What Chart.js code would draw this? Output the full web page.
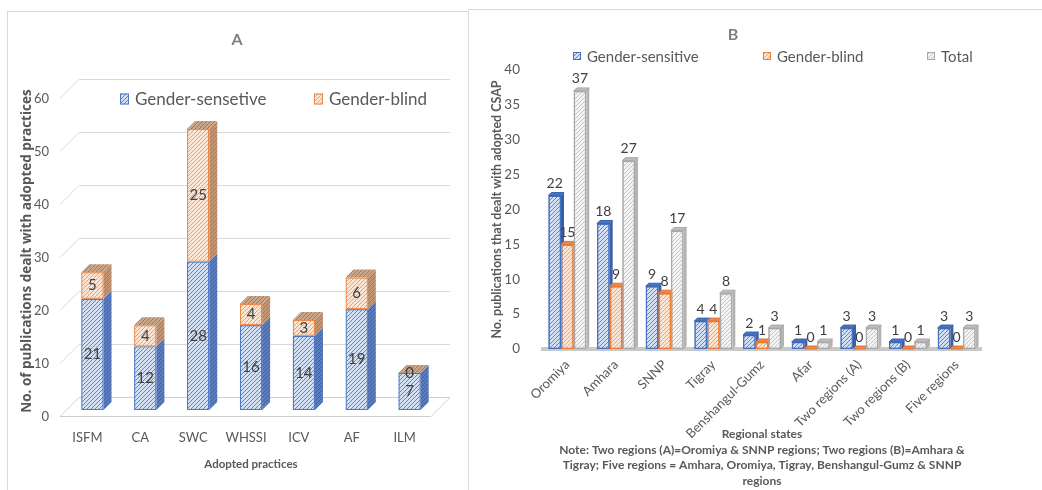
<!DOCTYPE html>
<html>
<head>
<meta charset="utf-8">
<script src="https://cdn.jsdelivr.net/npm/chart.js@4.4.1/dist/chart.umd.min.js"></script>
<style>
  html, body { margin: 0; padding: 0; background: #fff; }
  #wrap { position: relative; width: 1042px; height: 490px; overflow: hidden; background: #fff; }
  #frameA { position: absolute; left: 7px; top: 11px; width: 460px; height: 490px; border: 1.5px solid #d9d9d9; }
  #frameB { position: absolute; left: 468px; top: 9px; width: 580px; height: 490px; border-top: 1.5px solid #d9d9d9; }
  canvas { position: absolute; top: 0; }
  #cA { left: 0; }
  #cB { left: 470px; }
</style>
</head>
<body>
<div id="wrap">
  <div id="frameA"></div>
  <div id="frameB"></div>
  <canvas id="cA" width="470" height="490"></canvas>
  <canvas id="cB" width="572" height="490"></canvas>
</div>
<script>
// Panel A: publications by adopted practice
const practices = ['ISFM', 'CA', 'SWC', 'WHSSI', 'ICV', 'AF', 'ILM'];
const practiceSensitive = [21, 12, 28, 16, 14, 19, 7];
const practiceBlind = [5, 4, 25, 4, 3, 6, 0];
const practiceTicks = [0, 10, 20, 30, 40, 50, 60];

// Panel B: publications by regional state
const regions = ['Oromiya', 'Amhara', 'SNNP', 'Tigray', 'Benshangul-Gumz', 'Afar',
                 'Two regions (A)', 'Two regions (B)', 'Five regions'];
const regionSensitive = [22, 18, 9, 4, 2, 1, 3, 1, 3];
const regionBlind = [15, 9, 8, 4, 1, 0, 0, 0, 0];
const regionTotal = [37, 27, 17, 8, 3, 1, 3, 1, 3];
const regionTicks = [0, 5, 10, 15, 20, 25, 30, 35, 40];

const noteLines = [
  'Regional states',
  'Note: Two regions (A)=Oromiya & SNNP regions; Two regions (B)=Amhara &',
  'Tigray; Five regions = Amhara, Oromiya, Tigray, Benshangul-Gumz & SNNP',
  'regions'
];

const FAMILY = "Lato, 'Open Sans', sans-serif";
Chart.defaults.font.family = FAMILY;
Chart.defaults.color = '#595959';

// diagonal hatch fill
function hatch(bg, fg, step) {
  const c = document.createElement('canvas');
  c.width = c.height = step;
  const g = c.getContext('2d');
  g.fillStyle = bg;
  g.fillRect(0, 0, step, step);
  g.strokeStyle = fg;
  g.lineWidth = 1;
  g.beginPath();
  g.moveTo(0, step); g.lineTo(step, 0);
  g.moveTo(-1, 1); g.lineTo(1, -1);
  g.moveTo(step - 1, step + 1); g.lineTo(step + 1, step - 1);
  g.stroke();
  return g.createPattern(c, 'repeat');
}

// side and top faces that give each bar some depth; series are repainted
// left to right so a bar's neighbour on the right hides its side face
const depthFaces = {
  id: 'depthFaces',
  afterDatasetsDraw(chart, args, o) {
    const ctx = chart.ctx;
    const dx = o.dx, dy = o.dy;
    ctx.save();
    chart.data.datasets.forEach((ds, i) => {
      const meta = chart.getDatasetMeta(i);
      const f = ds.faces;
      meta.data.forEach(bar => bar.draw(ctx));
      if (!f) return;
      meta.data.forEach(bar => {
        const p = bar.getProps(['x', 'y', 'base', 'width'], true);
        const l = p.x - p.width / 2, r = p.x + p.width / 2;
        const top = Math.min(p.y, p.base), bot = Math.max(p.y, p.base);
        ctx.fillStyle = f.side;
        ctx.beginPath();
        ctx.moveTo(r, bot); ctx.lineTo(r + dx, bot - dy);
        ctx.lineTo(r + dx, top - dy); ctx.lineTo(r, top);
        ctx.closePath(); ctx.fill();
        if (f.top) {
          ctx.fillStyle = f.top;
          ctx.beginPath();
          ctx.moveTo(l, top); ctx.lineTo(l + dx, top - dy);
          ctx.lineTo(r + dx, top - dy); ctx.lineTo(r, top);
          ctx.closePath(); ctx.fill();
          if (f.edge) {
            ctx.strokeStyle = f.edge; ctx.lineWidth = 1;
            ctx.stroke();
          }
        }
      });
    });
    ctx.restore();
  }
};

// value labels: inside the bar or above it
const valueLabels = {
  id: 'valueLabels',
  afterDatasetsDraw(chart, args, o) {
    const ctx = chart.ctx;
    ctx.save();
    ctx.font = o.size + 'px ' + FAMILY;
    ctx.fillStyle = o.color;
    ctx.textAlign = 'center';
    ctx.textBaseline = 'middle';
    chart.data.datasets.forEach((ds, i) => {
      const meta = chart.getDatasetMeta(i);
      meta.data.forEach((bar, j) => {
        const p = bar.getProps(['x', 'y', 'base'], true);
        const ty = o.inside ? (p.y + p.base) / 2 : Math.min(p.y, p.base) - o.gap;
        ctx.fillText(String(ds.data[j]), p.x + (o.shift || 0), ty);
      });
    });
    ctx.restore();
  }
};

// legend row with hatched swatches
const swatchLegend = {
  id: 'swatchLegend',
  afterDraw(chart, args, o) {
    const ctx = chart.ctx;
    ctx.save();
    ctx.font = o.size + 'px ' + FAMILY;
    ctx.textAlign = 'left';
    ctx.textBaseline = 'middle';
    chart.data.datasets.forEach((ds, i) => {
      const x = o.xs[i];
      ctx.fillStyle = ds.backgroundColor;
      ctx.fillRect(x, o.y - o.boxH / 2, o.boxW, o.boxH);
      ctx.strokeStyle = ds.borderColor;
      ctx.lineWidth = 1;
      ctx.strokeRect(x + 0.5, o.y - o.boxH / 2 + 0.5, o.boxW - 1, o.boxH - 1);
      ctx.fillStyle = o.color;
      ctx.fillText(ds.label, x + o.boxW + o.gap, o.y + 1);
    });
    ctx.restore();
  }
};

// panel heading letter
const panelTitle = {
  id: 'panelTitle',
  afterDraw(chart, args, o) {
    const ctx = chart.ctx;
    ctx.save();
    ctx.font = 'bold ' + o.size + 'px ' + FAMILY;
    ctx.fillStyle = o.color;
    ctx.textAlign = 'center';
    ctx.textBaseline = 'middle';
    ctx.fillText(o.text, o.x, o.y);
    ctx.restore();
  }
};

// back wall gridlines and floor of panel A
const backWall = {
  id: 'backWall',
  beforeDatasetsDraw(chart, args, o) {
    const ctx = chart.ctx;
    const ca = chart.chartArea;
    const ys = chart.scales.y;
    const x0 = ca.left + o.leftShift, x1 = ca.right + o.rightShift;
    ctx.save();
    ctx.lineWidth = 1;
    ys.ticks.forEach(t => {
      const yv = Math.round(ys.getPixelForValue(t.value)) + 0.5;
      const yF = yv + o.front, yB = yv - o.back;
      ctx.beginPath();
      if (t.value === 0) {
        ctx.strokeStyle = o.floorColor;
        ctx.moveTo(x0, yF); ctx.lineTo(x1, yF);
        ctx.lineTo(x1 + o.dx, yB); ctx.lineTo(x0 + o.dx, yB);
        ctx.closePath();
      } else {
        ctx.strokeStyle = o.color;
        ctx.moveTo(x0, yF); ctx.lineTo(x0 + o.dx, yB); ctx.lineTo(x1 + o.dx, yB);
      }
      ctx.stroke();
    });
    ctx.restore();
  }
};

const blueFill = hatch('#d3dff3', '#5d84cc', 4);
const orangeFill = hatch('#fde5d4', '#f1a068', 4);
const grayFill = hatch('#f4f4f4', '#c4c4c4', 4);

// ---------- Panel A ----------
new Chart(document.getElementById('cA'), {
  type: 'bar',
  data: {
    labels: practices,
    datasets: [
      {
        label: 'Gender-sensetive', data: practiceSensitive,
        backgroundColor: blueFill, borderColor: '#4f79c6', borderWidth: 1.2, borderSkipped: false,
        faces: { side: hatch('#5a7bbd', '#4363a3', 4) }
      },
      {
        label: 'Gender-blind', data: practiceBlind,
        backgroundColor: orangeFill, borderColor: '#ee8a47', borderWidth: 1.2, borderSkipped: false,
        faces: { side: hatch('#c39474', '#a8795b', 4), top: hatch('#c9a689', '#a27a5b', 4) }
      }
    ]
  },
  options: {
    responsive: false,
    animation: false,
    layout: { padding: { top: 92, right: 34, bottom: 0, left: 0 } },
    datasets: { bar: { categoryPercentage: 0.42, barPercentage: 1 } },
    scales: {
      x: {
        stacked: true,
        grid: { display: false, drawTicks: false },
        border: { display: false },
        ticks: { padding: 20, labelOffset: -5, font: { size: 13 }, color: '#595959' },
        title: { display: true, text: 'Adopted practices', color: '#595959',
                 font: { size: 11.5, weight: 'bold' }, padding: { top: 0, bottom: 19 } },
        afterFit(s) { s.height = 80; }
      },
      y: {
        stacked: true, min: 0, max: 60,
        afterBuildTicks(s) { s.ticks = practiceTicks.map(v => ({ value: v })); },
        grid: { display: false, drawTicks: false },
        border: { display: false },
        ticks: { padding: 17, labelOffset: 7, font: { size: 13 }, color: '#595959' },
        title: { display: true, text: 'No. of publications dealt with adopted practices', color: '#595959',
                 font: { family: "'Open Sans', Lato, sans-serif", size: 13.5, weight: 'bold' },
                 padding: { top: 19, bottom: 0 } },
        afterFit(s) { s.width = 66; }
      }
    },
    plugins: {
      legend: { display: false },
      tooltip: { enabled: false },
      depthFaces: { dx: 8, dy: 8 },
      valueLabels: { inside: true, size: 15, color: '#404040' },
      swatchLegend: { xs: [120, 314], y: 99, size: 17, boxW: 9, boxH: 11, gap: 6, color: '#595959' },
      panelTitle: { text: 'A', x: 237, y: 40, size: 16, color: '#7f7f7f' },
      backWall: { leftShift: -6, rightShift: -5, dx: 19, front: 6, back: 13, color: '#d9d9d9', floorColor: '#cfcfcf' }
    }
  },
  plugins: [backWall, depthFaces, valueLabels, swatchLegend, panelTitle]
});

// ---------- Panel B ----------
new Chart(document.getElementById('cB'), {
  type: 'bar',
  data: {
    labels: regions,
    datasets: [
      {
        label: 'Gender-sensitive', data: regionSensitive,
        backgroundColor: blueFill, borderColor: '#4472c4', borderWidth: 1.5, borderSkipped: false,
        faces: { side: '#3a5fa8', top: '#4a74c0', edge: '#3a62ad' }
      },
      {
        label: 'Gender-blind', data: regionBlind,
        backgroundColor: orangeFill, borderColor: '#ed7d31', borderWidth: 1.5, borderSkipped: false,
        faces: { side: '#d56c28', top: '#e98a4c', edge: '#df7630' }
      },
      {
        label: 'Total', data: regionTotal,
        backgroundColor: grayFill, borderColor: '#a8a8a8', borderWidth: 1.5, borderSkipped: false,
        faces: { side: '#b3b3b3', top: '#bdbdbd', edge: '#a8a8a8' }
      }
    ]
  },
  options: {
    responsive: false,
    animation: false,
    layout: { padding: { top: 70, right: 61, bottom: 0, left: 0 } },
    datasets: { bar: { categoryPercentage: 0.78, barPercentage: 1 } },
    scales: {
      x: {
        grid: { display: false, drawTicks: false },
        border: { display: true, color: '#c8c8c8', width: 4 },
        ticks: { padding: 8, minRotation: 45, maxRotation: 45, autoSkip: false,
                 font: { size: 13 }, color: '#595959' },
        title: { display: true, text: noteLines, color: '#595959',
                 font: { size: 12, weight: 'bold', lineHeight: 1.3 }, padding: { top: 0, bottom: 1 } },
        afterFit(s) { s.height = 141; }
      },
      y: {
        min: 0, max: 40,
        afterBuildTicks(s) { s.ticks = regionTicks.map(v => ({ value: v })); },
        grid: { display: false, drawTicks: false },
        border: { display: false },
        ticks: { padding: 23, font: { size: 13.5 }, color: '#595959' },
        title: { display: true, text: 'No. publications that dealt with adopted CSAP', color: '#595959',
                 font: { size: 12.5, weight: 'bold' }, padding: { top: 19, bottom: 0 } },
        afterFit(s) { s.width = 73; }
      }
    },
    plugins: {
      legend: { display: false },
      tooltip: { enabled: false },
      depthFaces: { dx: 3, dy: 3 },
      valueLabels: { inside: false, gap: 12, size: 14, color: '#404040' },
      swatchLegend: { xs: [103, 293, 457], y: 56, size: 15, boxW: 8, boxH: 8, gap: 6, color: '#595959' },
      panelTitle: { text: 'B', x: 263, y: 35, size: 16, color: '#7f7f7f' }
    }
  },
  plugins: [depthFaces, valueLabels, swatchLegend, panelTitle]
});
</script>
</body>
</html>
